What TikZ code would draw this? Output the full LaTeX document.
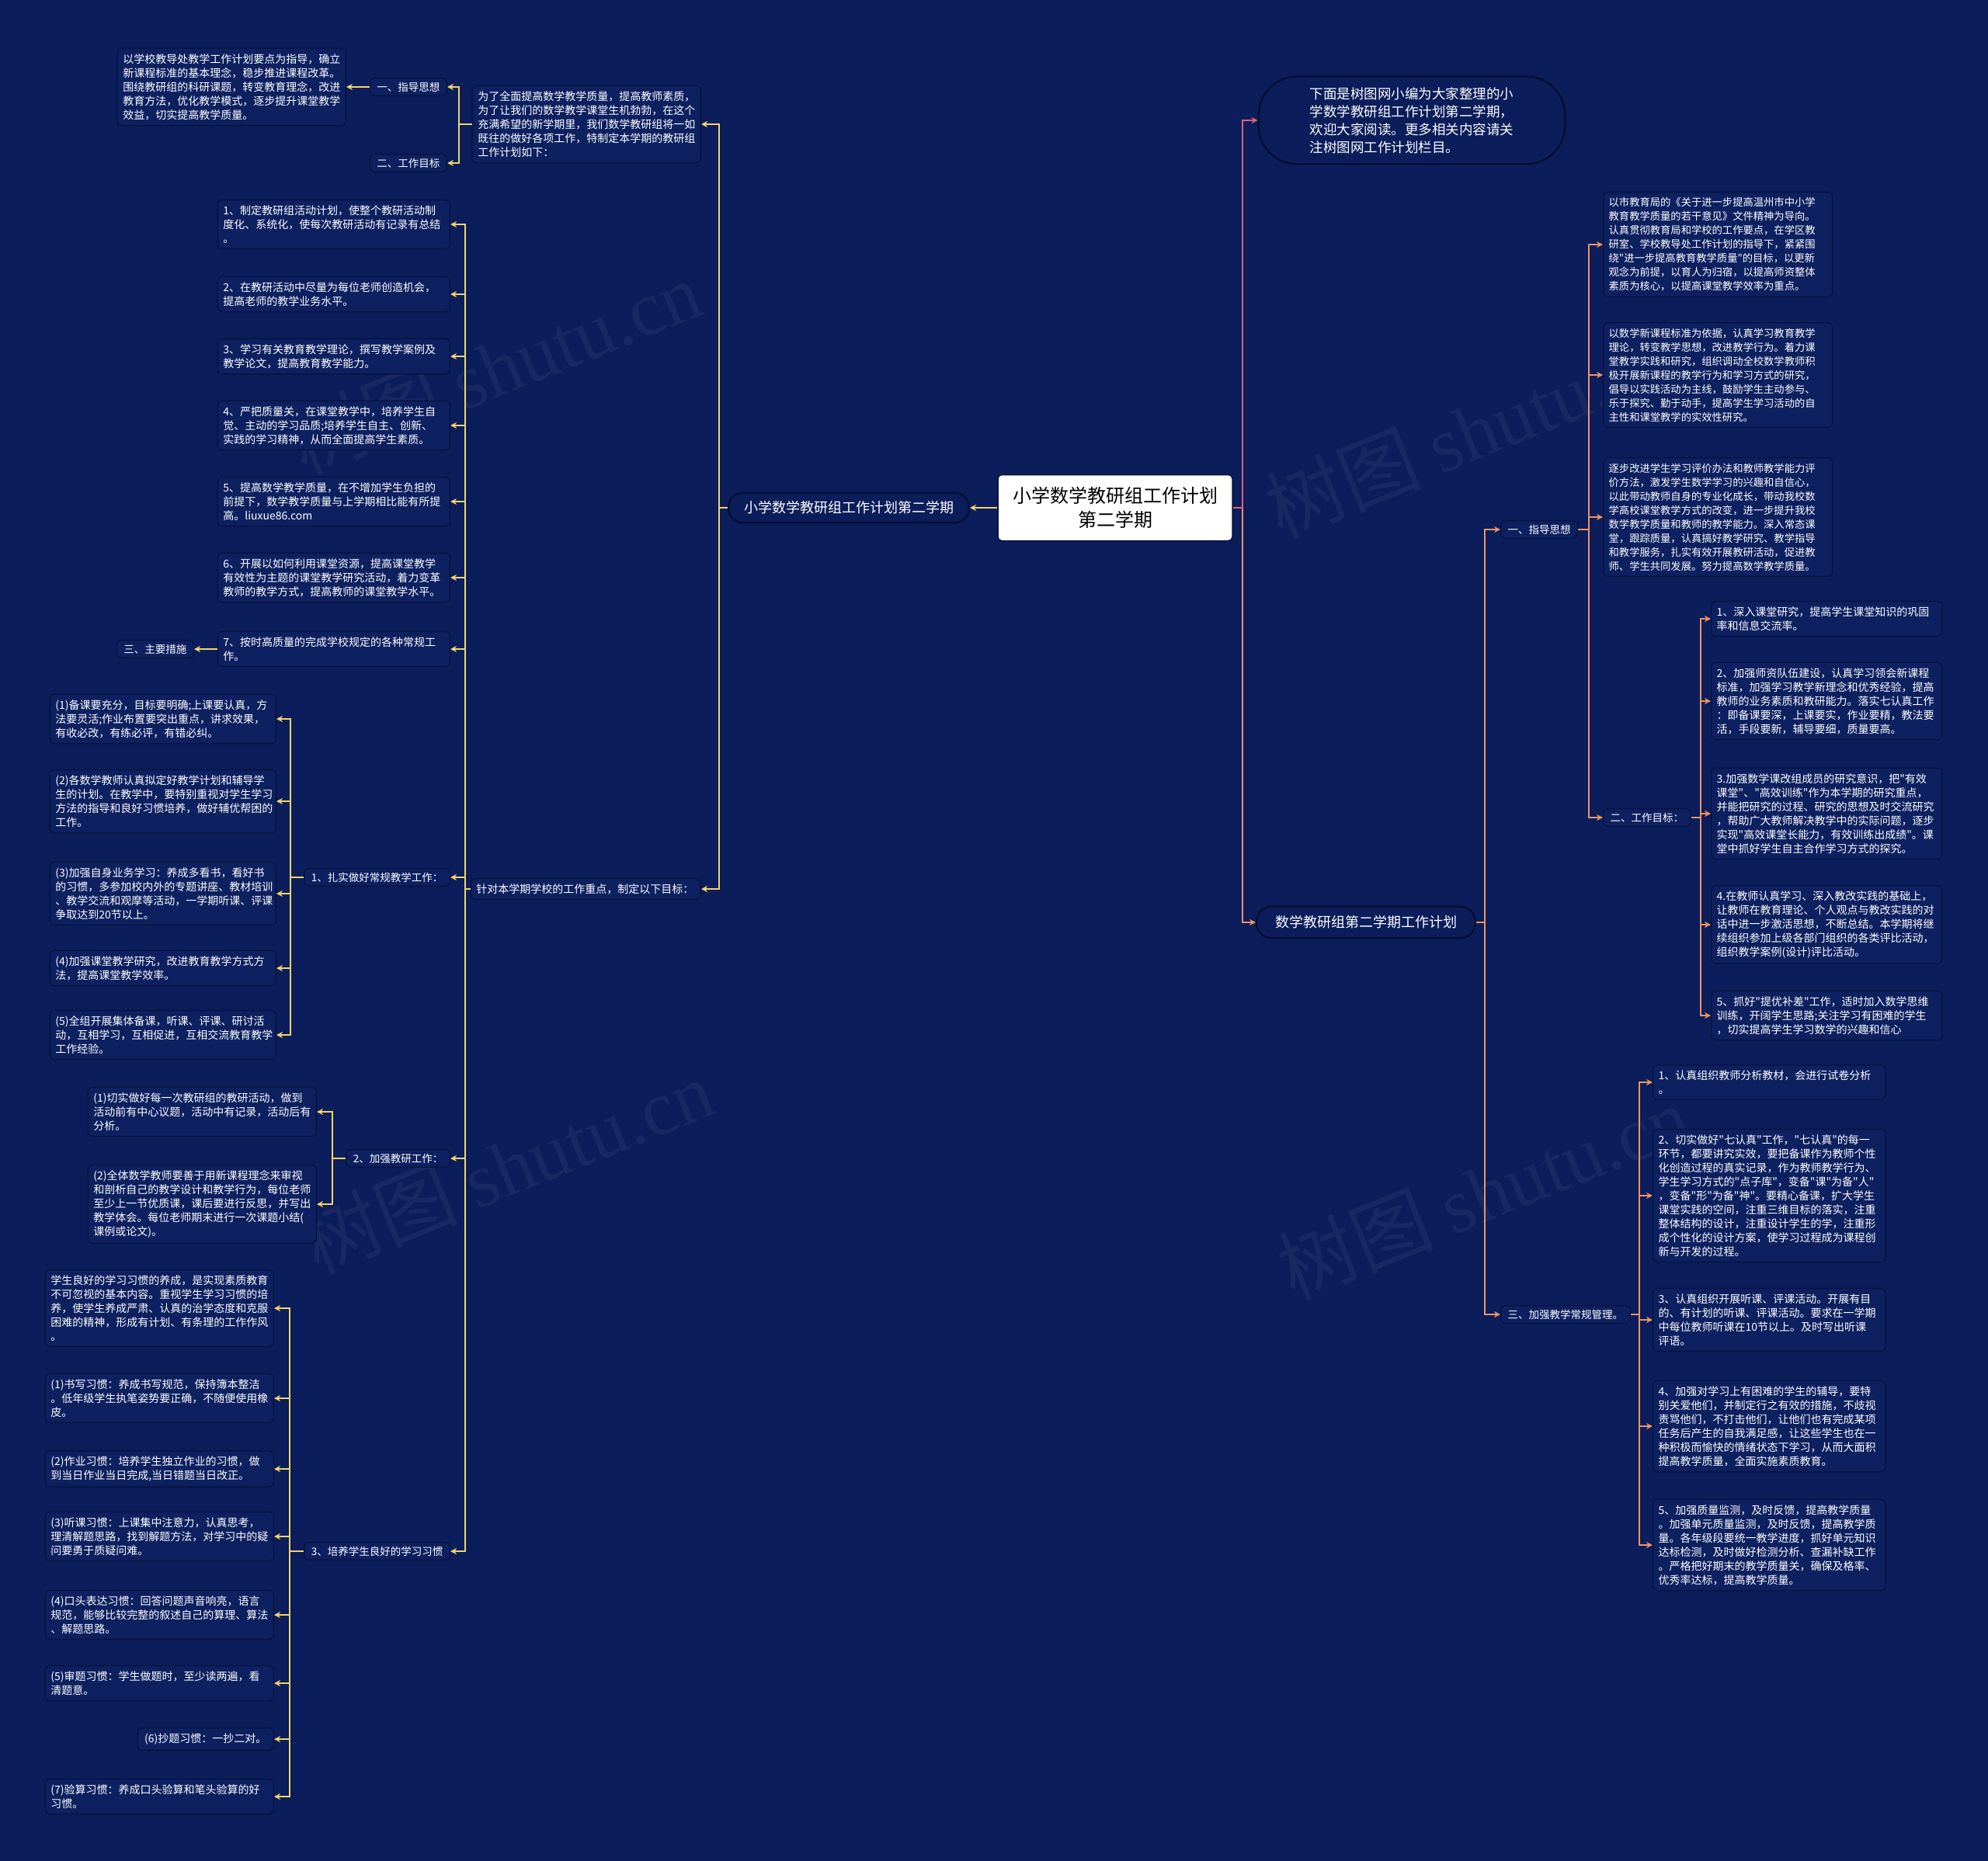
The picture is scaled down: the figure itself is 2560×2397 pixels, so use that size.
\documentclass[tikz,border=0pt]{standalone}
\usepackage{fontspec}
\setmainfont{Noto Sans CJK SC}[Ligatures=TeXOff]
\newfontfamily\wmlatin{Liberation Serif}
\usetikzlibrary{arrows.meta}
\definecolor{bgc}{HTML}{0B1D5A}
\definecolor{boxc}{HTML}{0D2060}
\definecolor{bdc}{HTML}{07123E}
\definecolor{pillb}{HTML}{040B2C}
\definecolor{ylc}{HTML}{F3D46C}
\definecolor{orc}{HTML}{EE9461}
\definecolor{pkc}{HTML}{E4607B}
\tikzset{
  tbox/.style={font=\fontsize{14}{18}\selectfont, text=white, draw=bdc, fill=boxc, line width=1.3pt, rounded corners=6pt, inner xsep=7pt, inner ysep=7pt, align=left},
  lab/.style={tbox, font=\fontsize{13.5}{17.5}\selectfont, inner xsep=9pt, inner ysep=5pt},
  tsm/.style={tbox, font=\fontsize{13.3}{18}\selectfont},
  pill/.style={draw=pillb, line width=2pt, fill=bgc, text=white, font=\fontsize{18}{22}\selectfont, inner xsep=20pt, inner ysep=11pt, rounded corners=19pt},
  cbox/.style={fill=white, draw=bdc, line width=1.5pt, rounded corners=5pt, minimum width=302pt, minimum height=85pt, align=center, font=\fontsize{24}{31}\selectfont, text=black},
  ylline/.style={draw=ylc, line width=2.5pt, -{Stealth[length=8pt,width=8pt]}},
  orline/.style={draw=orc, line width=2.5pt, -{Stealth[length=8pt,width=8pt]}},
  pkline/.style={draw=pkc, line width=2.5pt, -{Stealth[length=8pt,width=8pt]}},
  wm/.style={text=white, text opacity=0.05, font=\fontsize{100}{100}\selectfont, rotate=22}
}
\begin{document}
\begin{tikzpicture}[x=1pt,y=-1pt]
\fill[bgc] (0,0) rectangle (2560,2397);
\useasboundingbox (0,0) rectangle (2560,2397);

% watermarks
\node[wm] (wm1) at (637,473) {树图 {\wmlatin shutu.cn}};
\node[wm] (wm2) at (653,1502) {树图 {\wmlatin shutu.cn}};
\node[wm] (wm3) at (1894,555) {树图 {\wmlatin shutu.cn}};
\node[wm] (wm4) at (1910,1535) {树图 {\wmlatin shutu.cn}};

% trunk coordinates
\coordinate (tF) at (926,0);
\coordinate (tD) at (591,0);
\coordinate (tE) at (599,0);
\coordinate (tG1) at (374,0);
\coordinate (tG2) at (428,0);
\coordinate (tG3) at (373,0);
\coordinate (tR) at (1600,0);
\coordinate (tP2) at (1912,0);
\coordinate (tH1) at (2046,0);
\coordinate (tH2) at (2190,0);
\coordinate (tH3) at (2111,0);

% central
\node[cbox] (C0) at (1436,654) {小学数学教研组工作计划\\第二学期};

% ===== left =====
\node[pill, anchor=east] (F) at (1249,654) {小学数学教研组工作计划第二学期};

\node[tbox, text width=280pt, anchor=east] (D) at (903,160) {为了全面提高数学教学质量，提高教师素质，\\为了让我们的数学教学课堂生机勃勃，在这个\\充满希望的新学期里，我们数学教研组将一如\\既往的做好各项工作，特制定本学期的教研组\\工作计划如下：};
\node[tbox, text width=282pt, anchor=east] (E) at (903,1145) {针对本学期学校的工作重点，制定以下目标：};

\node[lab, anchor=east] (B) at (576,112) {一、指导思想};
\node[lab, anchor=east] (Cg) at (576,210) {二、工作目标};
\node[tbox, text width=280pt, anchor=east] (A) at (446,112) {以学校教导处教学工作计划要点为指导，确立\\新课程标准的基本理念，稳步推进课程改革。\\围绕教研组的科研课题，转变教育理念，改进\\教育方法，优化教学模式，逐步提升课堂教学\\效益，切实提高教学质量。};

\node[tbox, text width=285pt, anchor=east] (I1) at (580,289) {1、制定教研组活动计划，使整个教研活动制\\度化、系统化，使每次教研活动有记录有总结\\。};
\node[tbox, text width=285pt, anchor=east] (I2) at (580,379) {2、在教研活动中尽量为每位老师创造机会，\\提高老师的教学业务水平。};
\node[tbox, text width=285pt, anchor=east] (I3) at (580,459) {3、学习有关教育教学理论，撰写教学案例及\\教学论文，提高教育教学能力。};
\node[tbox, text width=285pt, anchor=east] (I4) at (580,548) {4、严把质量关，在课堂教学中，培养学生自\\觉、主动的学习品质;培养学生自主、创新、\\实践的学习精神，从而全面提高学生素质。};
\node[tbox, text width=285pt, anchor=east] (I5) at (580,646) {5、提高数学教学质量，在不增加学生负担的\\前提下，数学教学质量与上学期相比能有所提\\高。liuxue86.com};
\node[tbox, text width=285pt, anchor=east] (I6) at (580,744) {6、开展以如何利用课堂资源，提高课堂教学\\有效性为主题的课堂教学研究活动，着力变革\\教师的教学方式，提高教师的课堂教学水平。};
\node[tbox, text width=285pt, anchor=east] (I7) at (580,836) {7、按时高质量的完成学校规定的各种常规工\\作。};
\node[lab, anchor=east] (M) at (250,836) {三、主要措施};

\node[lab, anchor=east] (G1) at (580,1130) {1、扎实做好常规教学工作：};
\node[tbox, text width=277pt, anchor=east] (g1a) at (356,926) {(1)备课要充分，目标要明确;上课要认真，方\\法要灵活;作业布置要突出重点，讲求效果，\\有收必改，有练必评，有错必纠。};
\node[tbox, text width=277pt, anchor=east] (g1b) at (356,1032) {(2)各数学教师认真拟定好教学计划和辅导学\\生的计划。在教学中，要特别重视对学生学习\\方法的指导和良好习惯培养，做好辅优帮困的\\工作。};
\node[tbox, text width=277pt, anchor=east] (g1c) at (356,1151) {(3)加强自身业务学习：养成多看书，看好书\\的习惯，多参加校内外的专题讲座、教材培训\\、教学交流和观摩等活动，一学期听课、评课\\争取达到20节以上。};
\node[tbox, text width=277pt, anchor=east] (g1d) at (356,1247) {(4)加强课堂教学研究，改进教育教学方式方\\法，提高课堂教学效率。};
\node[tbox, text width=277pt, anchor=east] (g1e) at (356,1333) {(5)全组开展集体备课，听课、评课、研讨活\\动，互相学习，互相促进，互相交流教育教学\\工作经验。};

\node[lab, anchor=east] (G2) at (580,1492) {2、加强教研工作：};
\node[tbox, text width=280pt, anchor=east] (g2a) at (408,1432) {(1)切实做好每一次教研组的教研活动，做到\\活动前有中心议题，活动中有记录，活动后有\\分析。};
\node[tbox, text width=280pt, anchor=east] (g2b) at (408,1551) {(2)全体数学教师要善于用新课程理念来审视\\和剖析自己的教学设计和教学行为，每位老师\\至少上一节优质课，课后要进行反思，并写出\\教学体会。每位老师期末进行一次课题小结(\\课例或论文)。};

\node[lab, anchor=east] (G3) at (580,1998) {3、培养学生良好的学习习惯};
\node[tbox, text width=280pt, anchor=east] (g3o) at (353,1685) {学生良好的学习习惯的养成，是实现素质教育\\不可忽视的基本内容。重视学生学习习惯的培\\养，使学生养成严肃、认真的治学态度和克服\\困难的精神，形成有计划、有条理的工作作风\\。};
\node[tbox, text width=280pt, anchor=east] (g3a) at (353,1801) {(1)书写习惯：养成书写规范，保持簿本整洁\\。低年级学生执笔姿势要正确，不随便使用橡\\皮。};
\node[tbox, text width=280pt, anchor=east] (g3b) at (353,1892) {(2)作业习惯：培养学生独立作业的习惯，做\\到当日作业当日完成,当日错题当日改正。};
\node[tbox, text width=280pt, anchor=east] (g3c) at (353,1979) {(3)听课习惯：上课集中注意力，认真思考，\\理清解题思路，找到解题方法，对学习中的疑\\问要勇于质疑问难。};
\node[tbox, text width=280pt, anchor=east] (g3d) at (353,2080) {(4)口头表达习惯：回答问题声音响亮，语言\\规范，能够比较完整的叙述自己的算理、算法\\、解题思路。};
\node[tbox, text width=280pt, anchor=east] (g3e) at (353,2168) {(5)审题习惯：学生做题时，至少读两遍，看\\清题意。};
\node[tbox, inner xsep=9pt, anchor=east] (g3f) at (353,2240) {(6)抄题习惯：一抄二对。};
\node[tbox, text width=280pt, anchor=east] (g3g) at (353,2314) {(7)验算习惯：养成口头验算和笔头验算的好\\习惯。};

% ===== right =====
\node[pill, minimum width=395pt, minimum height=113pt, rounded corners=50pt, align=left, font=\fontsize{17.5}{23}\selectfont] (P1) at (1818,155) {下面是树图网小编为大家整理的小\\学数学教研组工作计划第二学期，\\欢迎大家阅读。更多相关内容请关\\注树图网工作计划栏目。};
\node[pill, anchor=west, inner xsep=24pt, inner ysep=12pt, rounded corners=20pt] (P2) at (1617,1188) {数学教研组第二学期工作计划};

\node[lab, anchor=west] (H1) at (1932,682) {一、指导思想};
\node[lab, anchor=west] (H2) at (2064,1053) {二、工作目标：};
\node[lab, anchor=west] (H3) at (1932,1693) {三、加强教学常规管理。};

\node[tsm, text width=281pt, anchor=west] (T1) at (2064,315) {以市教育局的《关于进一步提高温州市中小学\\教育教学质量的若干意见》文件精神为导向。\\认真贯彻教育局和学校的工作要点，在学区教\\研室、学校教导处工作计划的指导下，紧紧围\\绕"进一步提高教育教学质量"的目标，以更新\\观念为前提，以育人为归宿，以提高师资整体\\素质为核心，以提高课堂教学效率为重点。};
\node[tsm, text width=281pt, anchor=west] (T2) at (2064,483) {以数学新课程标准为依据，认真学习教育教学\\理论，转变教学思想，改进教学行为。着力课\\堂教学实践和研究，组织调动全校数学教师积\\极开展新课程的教学行为和学习方式的研究，\\倡导以实践活动为主线，鼓励学生主动参与、\\乐于探究、勤于动手，提高学生学习活动的自\\主性和课堂教学的实效性研究。};
\node[tsm, text width=281pt, anchor=west] (T3) at (2064,666) {逐步改进学生学习评价办法和教师教学能力评\\价方法，激发学生数学学习的兴趣和自信心，\\以此带动教师自身的专业化成长，带动我校数\\学高校课堂教学方式的改变，进一步提升我校\\数学教学质量和教师的教学能力。深入常态课\\堂，跟踪质量，认真搞好教学研究、教学指导\\和教学服务，扎实有效开展教研活动，促进教\\师、学生共同发展。努力提高数学教学质量。};

\node[tbox, text width=283pt, anchor=west] (W1) at (2203,797) {1、深入课堂研究，提高学生课堂知识的巩固\\率和信息交流率。};
\node[tbox, text width=283pt, anchor=west] (W2) at (2203,903) {2、加强师资队伍建设，认真学习领会新课程\\标准，加强学习教学新理念和优秀经验，提高\\教师的业务素质和教研能力。落实七认真工作\\：即备课要深，上课要实，作业要精，教法要\\活，手段要新，辅导要细，质量要高。};
\node[tbox, text width=283pt, anchor=west] (W3) at (2203,1048) {3.加强数学课改组成员的研究意识，把"有效\\课堂"、"高效训练"作为本学期的研究重点，\\并能把研究的过程、研究的思想及时交流研究\\，帮助广大教师解决教学中的实际问题，逐步\\实现"高效课堂长能力，有效训练出成绩"。课\\堂中抓好学生自主合作学习方式的探究。};
\node[tbox, text width=283pt, anchor=west] (W4) at (2203,1191) {4.在教师认真学习、深入教改实践的基础上，\\让教师在教育理论、个人观点与教改实践的对\\话中进一步激活思想，不断总结。本学期将继\\续组织参加上级各部门组织的各类评比活动，\\组织教学案例(设计)评比活动。};
\node[tbox, text width=283pt, anchor=west] (W5) at (2203,1308) {5、抓好"提优补差"工作，适时加入数学思维\\训练，开阔学生思路;关注学习有困难的学生\\，切实提高学生学习数学的兴趣和信心};

\node[tbox, text width=285pt, anchor=west] (R1) at (2128,1394) {1、认真组织教师分析教材，会进行试卷分析\\。};
\node[tbox, text width=285pt, anchor=west] (R2) at (2128,1540) {2、切实做好"七认真"工作，"七认真"的每一\\环节，都要讲究实效，要把备课作为教师个性\\化创造过程的真实记录，作为教师教学行为、\\学生学习方式的"点子库"，变备"课"为备"人"\\，变备"形"为备"神"。要精心备课，扩大学生\\课堂实践的空间，注重三维目标的落实，注重\\整体结构的设计，注重设计学生的学，注重形\\成个性化的设计方案，使学习过程成为课程创\\新与开发的过程。};
\node[tbox, text width=285pt, anchor=west] (R3) at (2128,1700) {3、认真组织开展听课、评课活动。开展有目\\的、有计划的听课、评课活动。要求在一学期\\中每位教师听课在10节以上。及时写出听课\\评语。};
\node[tbox, text width=285pt, anchor=west] (R4) at (2128,1837) {4、加强对学习上有困难的学生的辅导，要特\\别关爱他们，并制定行之有效的措施，不歧视\\责骂他们，不打击他们，让他们也有完成某项\\任务后产生的自我满足感，让这些学生也在一\\种积极而愉快的情绪状态下学习，从而大面积\\提高教学质量，全面实施素质教育。};
\node[tbox, text width=285pt, anchor=west] (R5) at (2128,1990) {5、加强质量监测，及时反馈，提高教学质量\\。加强单元质量监测，及时反馈，提高教学质\\量。各年级段要统一教学进度，抓好单元知识\\达标检测，及时做好检测分析、查漏补缺工作\\。严格把好期末的教学质量关，确保及格率、\\优秀率达标，提高教学质量。};

% ===== connectors left =====
\draw[ylline] (C0.west) -- (F.east);
\foreach \c in {D,E} \draw[ylline] (F.west) -- (tF |- F.west) |- (\c.east);
\foreach \c in {B,Cg} \draw[ylline] (D.west) -- (tD |- D.west) |- (\c.east);
\draw[ylline] (B.west) -- (A.east);
\foreach \c in {I1,I2,I3,I4,I5,I6,I7,G1,G2,G3} \draw[ylline] (E.west) -- (tE |- E.west) |- (\c.east);
\draw[ylline] (I7.west) -- (M.east);
\foreach \c in {g1a,g1b,g1c,g1d,g1e} \draw[ylline] (G1.west) -- (tG1 |- G1.west) |- (\c.east);
\foreach \c in {g2a,g2b} \draw[ylline] (G2.west) -- (tG2 |- G2.west) |- (\c.east);
\foreach \c in {g3o,g3a,g3b,g3c,g3d,g3e,g3f,g3g} \draw[ylline] (G3.west) -- (tG3 |- G3.west) |- (\c.east);

% ===== connectors right =====
\draw[orline] (C0.east) -- (tR |- C0.east) |- (P2.west);
\draw[pkline] (C0.east) -- (tR |- C0.east) |- (P1.west);
\foreach \c in {H1,H3} \draw[orline] (P2.east) -- (tP2 |- P2.east) |- (\c.west);
\foreach \c in {T1,T2,T3,H2} \draw[orline] (H1.east) -- (tH1 |- H1.east) |- (\c.west);
\foreach \c in {W1,W2,W3,W4,W5} \draw[orline] (H2.east) -- (tH2 |- H2.east) |- (\c.west);
\foreach \c in {R1,R2,R3,R4,R5} \draw[orline] (H3.east) -- (tH3 |- H3.east) |- (\c.west);
\end{tikzpicture}
\end{document}
